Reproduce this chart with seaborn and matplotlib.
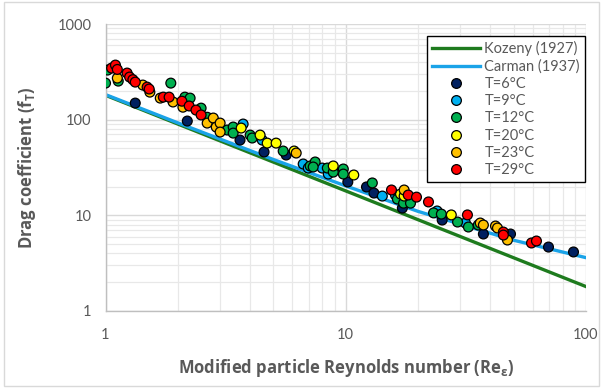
import matplotlib
matplotlib.use("Agg")
import matplotlib.pyplot as plt
import numpy as np
import pandas as pd
import seaborn as sns
from matplotlib.lines import Line2D
from matplotlib.patches import Rectangle
from matplotlib.ticker import NullFormatter

# ---------------- data ----------------
kozeny_re = [1, 100]
kozeny_f = [180, 1.8]
carman_re = [1, 2, 5, 10, 20, 50, 100]
carman_f = [182.9, 92.6, 38.3, 20.3, 11.0, 5.49, 3.61]

t6_re = [1.33, 2.19, 3.63, 4.57, 5.65, 10.2, 12.2, 13.1, 17.2, 25.2, 37.4, 48.5, 69.8, 88.7]
t6_f = [149, 96.7, 61.2, 45.9, 42.7, 22.3, 19.8, 17.1, 11.9, 8.93, 6.38, 6.38, 4.66, 4.14]

t9_re = [3.74, 4.49, 6.65, 6.98, 7.98, 8.46, 14.2, 16.1, 24.0, 31.5]
t9_f = [90.0, 61.2, 34.4, 31.2, 31.2, 27.0, 15.9, 16.3, 11.1, 8.31]

t12_re = [1.00, 1.02, 1.13, 1.87, 2.14, 2.25, 2.50, 2.65, 3.21, 3.40, 3.40, 4.00, 4.08,
          5.49, 7.11, 7.46, 7.32, 8.38, 8.87, 9.77, 9.77, 12.9, 16.4, 17.4, 18.6, 23.2,
          25.0, 29.2, 32.4, 35.6]
t12_f = [241, 330, 253, 241, 172, 168, 132, 106, 77.9, 83.7, 72.4, 69.0, 64.3,
         47.0, 32.8, 36.1, 32.0, 31.2, 28.3, 30.5, 27.0, 21.8, 14.8, 13.4, 13.4, 10.6,
         10.3, 8.51, 7.55, 7.92]

t20_re = [3.67, 4.40, 4.71, 5.13, 6.10, 8.87, 10.8, 16.9, 17.5, 27.5]
t20_f = [81.7, 69.0, 56.9, 56.9, 47.0, 32.8, 26.4, 16.7, 15.9, 10.1]

t23_re = [1.12, 1.43, 1.53, 1.69, 1.91, 2.10, 2.65, 2.81, 2.89, 3.00, 3.00, 6.22,
          17.5, 36.3, 37.4, 42.0, 42.8, 47.1]
t23_f = [272, 230, 194, 168, 153, 135, 92.1, 104, 83.7, 92.1, 74.2, 44.8,
         18.4, 8.31, 7.92, 7.73, 7.37, 5.52]

t29_re = [1.06, 1.10, 1.12, 1.23, 1.26, 1.30, 1.33, 1.49, 1.52, 1.74, 1.84, 2.08, 2.23,
          2.38, 2.50, 15.5, 18.2, 19.7, 22.1, 32.1, 45.3, 45.3, 59.3, 62.2]
t29_f = [346, 372, 335, 307, 279, 262, 247, 219, 209, 172, 172, 156, 139,
         126, 112, 18.4, 16.3, 15.5, 13.8, 10.1, 6.69, 6.22, 5.14, 5.39]

series_labels = ["T=6°C", "T=9°C", "T=12°C", "T=20°C", "T=23°C", "T=29°C"]
series_colors = ["#002060", "#00B0F0", "#00B050", "#FFFF00", "#FFC000", "#FF0000"]
kozeny_color = "#1E7B1E"
carman_color = "#1AA3E8"

# ---------------- frame ----------------
rows = []
for lab, xs, ys in zip(series_labels,
                       [t6_re, t9_re, t12_re, t20_re, t23_re, t29_re],
                       [t6_f, t9_f, t12_f, t20_f, t23_f, t29_f]):
    for xv, yv in zip(xs, ys):
        rows.append({"Re": xv, "f": yv, "T": lab})
df = pd.DataFrame(rows)
lines_df = pd.concat([
    pd.DataFrame({"Re": kozeny_re, "f": kozeny_f, "model": "Kozeny (1927)"}),
    pd.DataFrame({"Re": carman_re, "f": carman_f, "model": "Carman (1937)"}),
])

plt.rcParams["font.family"] = ["Lato", "DejaVu Sans"]
plt.rcParams["mathtext.fontset"] = "custom"
plt.rcParams["mathtext.bf"] = "Open Sans:bold"
plt.rcParams["mathtext.rm"] = "Open Sans"

fig = plt.figure(figsize=(6.03, 3.88), dpi=100)
ax = fig.add_axes([105.5 / 603, 1 - 311 / 388, 480.5 / 603, 287 / 388])

ax.set_xscale("log")
ax.set_yscale("log")

sns.lineplot(data=lines_df, x="Re", y="f", hue="model",
             palette={"Kozeny (1927)": kozeny_color, "Carman (1937)": carman_color},
             linewidth=2.4, legend=False, ax=ax, zorder=2, sort=True)
sns.scatterplot(data=df, x="Re", y="f", hue="T", hue_order=series_labels,
                palette=dict(zip(series_labels, series_colors)),
                s=50, edgecolor="black", linewidth=0.9, legend=False, ax=ax, zorder=3)

ax.set_xlim(1, 100)
ax.set_ylim(1, 1000)
ax.set_xticks([1, 10, 100])
ax.set_xticklabels(["1", "10", "100"])
ax.set_yticks([1, 10, 100, 1000])
ax.set_yticklabels(["1", "10", "100", "1000"])
ax.minorticks_on()
ax.tick_params(which="both", length=0, colors="#595959", labelsize=10.5)
ax.tick_params(axis="x", pad=12)
ax.tick_params(axis="y", pad=10)
ax.xaxis.set_minor_formatter(NullFormatter())
ax.yaxis.set_minor_formatter(NullFormatter())

ax.grid(which="major", color="#D9D9D9", linewidth=1.0)
ax.grid(which="minor", color="#E8E8E8", linewidth=0.9)
ax.set_axisbelow(True)
for side in ["top", "right"]:
    ax.spines[side].set_visible(False)
for side in ["left", "bottom"]:
    ax.spines[side].set_color("#BFBFBF")
    ax.spines[side].set_linewidth(1.0)

ax.set_xlabel(r"Modified particle Reynolds number (Re$_\mathbf{ε}$)",
              fontsize=12, fontweight="bold", color="#595959", labelpad=11,
              family=["Open Sans", "DejaVu Sans"])
ax.set_ylabel(r"Drag coefficient (f$_\mathbf{T}$)",
              fontsize=12, fontweight="bold", color="#595959", labelpad=14,
              family=["Open Sans", "DejaVu Sans"])

handles = [Line2D([0], [0], color=kozeny_color, lw=2.4),
           Line2D([0], [0], color=carman_color, lw=2.4)]
for c in series_colors:
    handles.append(Line2D([0], [0], marker="o", ls="", markerfacecolor=c,
                          markeredgecolor="black", markeredgewidth=0.9, markersize=7))
labels = ["Kozeny (1927)", "Carman (1937)"] + series_labels
leg = ax.legend(handles, labels, loc="upper right", bbox_to_anchor=(0.998, 0.958),
                frameon=True, fancybox=False, framealpha=1, edgecolor="black",
                fontsize=10.5, handlelength=3.3, labelspacing=0.22, borderpad=0.35,
                handletextpad=0.3, borderaxespad=0)
leg.get_frame().set_linewidth(1.0)
for t in leg.get_texts():
    t.set_color("#595959")

fig.patches.append(Rectangle((0.006, 0.006), 0.988, 0.988, transform=fig.transFigure,
                             fill=False, edgecolor="#D9D9D9", linewidth=1.0))

fig.savefig("out.png", dpi=100)
